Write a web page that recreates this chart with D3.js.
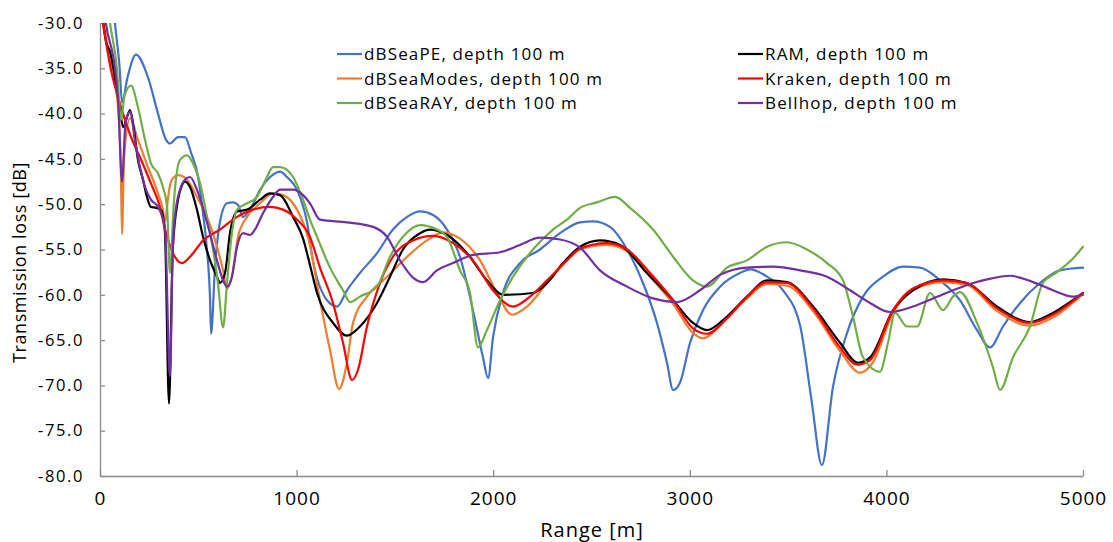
<!DOCTYPE html>
<html><head><meta charset="utf-8">
<script src="https://cdn.jsdelivr.net/npm/d3@7"></script>
<style>
html,body{margin:0;padding:0;background:#fff;}
svg{display:block;font-family:"Open Sans",sans-serif;}
</style></head>
<body><svg id="c" width="1113" height="542"></svg>
<script>
// ---- data (range in m, transmission loss in dB) ----
const peRange = [0,50,76,100,112,140,183,244,295,336,356,397,432,463,499,524,544,560,565,585,610,646,677,702,727,763,814,865,916,951,1002,1053,1083,1155,1206,1256,1322,1409,1490,1562,1628,1694,1765,1831,1897,1948,1974,1999,2050,2136,2238,2340,2442,2508,2594,2681,2762,2833,2884,2915,2950,3001,3067,3154,3255,3306,3393,3474,3561,3619,3672,3728,3800,3881,3983,4084,4171,4273,4374,4461,4527,4593,4680,4781,4883,5000];
const peTL    = [-15,-24,-30,-35,-38.8,-36,-33.5,-36,-40,-42.9,-43.3,-42.6,-42.6,-44.3,-47,-51,-55,-60.6,-64.3,-56.9,-52,-49.9,-49.8,-50.1,-51.4,-50.6,-48.4,-47,-46.4,-47,-48.4,-52,-56.2,-60.6,-61.3,-59.5,-57.6,-55.4,-52.8,-51.4,-50.8,-51.2,-52.8,-55.8,-61.7,-66.9,-69.2,-64.7,-59.8,-56.5,-55,-53.2,-52,-51.9,-52.5,-55,-58.7,-63.1,-67.5,-70.5,-69.7,-65.3,-61.7,-59.1,-57.6,-57.2,-58,-59.5,-63.4,-71.6,-78.8,-70.2,-64.2,-60.2,-58,-56.9,-57,-58.4,-60.6,-63.9,-65.8,-63.5,-60.9,-58.7,-57.3,-57];

const modesRange = [0,40,86,105,112,122,153,193,244,295,320,331,345,361,397,443,493,544,595,626,646,671,702,748,814,880,931,1002,1060,1119,1170,1216,1256,1287,1358,1460,1562,1663,1745,1831,1933,2019,2096,2172,2274,2375,2442,2579,2681,2798,2915,3016,3067,3169,3291,3393,3494,3627,3764,3866,3930,4034,4135,4288,4410,4563,4730,4847,5000];
const modesTL    = [-27,-33,-38,-45,-53.3,-45,-40.5,-42.9,-45.9,-48.8,-50.6,-52,-49.5,-47.5,-46.8,-47.3,-49.2,-51.4,-54.7,-57.3,-59.3,-58,-53.6,-51.4,-49.9,-48.8,-49,-50.6,-53.8,-60.6,-66.1,-70.4,-67.5,-63.1,-60.2,-58,-55.8,-54,-53.1,-53.8,-56.2,-59.8,-62.2,-61.3,-58.7,-56.2,-55,-54.5,-55.2,-58,-61,-64.2,-64.8,-63,-60.4,-58.8,-59,-61.8,-66.2,-68.6,-67.5,-62,-59.5,-58.6,-58.9,-61.8,-63.4,-62.5,-59.9];

const rayRange = [0,51,86,107,125,158,193,229,259,295,320,341,356,375,407,443,473,509,544,575,600,626,646,671,697,748,798,849,880,916,982,1033,1068,1104,1170,1236,1272,1322,1409,1475,1541,1628,1714,1765,1831,1882,1923,1968,2035,2101,2202,2304,2375,2442,2528,2620,2696,2813,2915,3016,3088,3189,3291,3393,3494,3596,3698,3779,3830,3881,3967,4008,4044,4105,4156,4222,4288,4339,4374,4461,4542,4578,4644,4730,4796,4868,4949,5000];
const rayTL    = [-20,-30,-35,-40.7,-38,-36.9,-39.3,-42.9,-45.5,-46.6,-48.1,-50.3,-57.6,-50,-45.1,-44.6,-45.5,-47.7,-51.4,-55,-58.7,-63.6,-58.7,-53.2,-50.6,-49.9,-49.2,-47,-45.9,-45.9,-47,-49.5,-51.7,-53.6,-57,-59.5,-60.8,-60.2,-59.1,-55.8,-53.6,-52.3,-52.8,-53.6,-57.3,-59.8,-65.8,-63.9,-60.6,-58,-55,-52.8,-51.7,-50.4,-49.8,-49.2,-50.4,-52.8,-55.8,-58.4,-59.1,-57,-56.2,-54.7,-54.2,-55,-56.5,-58.4,-62.4,-66.9,-68.5,-65.3,-62,-63.5,-63.5,-59.8,-61.7,-60.2,-59.7,-63.1,-68,-70.5,-66.9,-63.5,-58.7,-57.5,-56,-54.7];

const ramRange = [0,30,53,76,100,117,140,153,173,193,219,234,259,285,310,330,351,370,397,417,432,458,493,524,560,595,610,636,661,697,748,814,865,916,982,1033,1068,1104,1185,1256,1322,1409,1475,1541,1628,1678,1765,1867,1968,2050,2202,2274,2355,2442,2543,2645,2782,2915,3016,3088,3169,3291,3393,3494,3627,3764,3855,3917,4034,4135,4288,4410,4563,4730,4847,5000];
const ramTL    = [-27,-32,-33.3,-36,-39.3,-41.5,-40.2,-39.6,-41.8,-45.1,-47.3,-48.8,-50.3,-50.4,-50.6,-53,-72,-55,-49.5,-47.9,-47.5,-48.1,-50.6,-53.6,-56.2,-58,-58.7,-57.6,-53.2,-50.8,-50.6,-49.5,-48.8,-49,-51.4,-53.8,-56.7,-59.8,-63.1,-64.5,-63.5,-60.9,-58,-55,-53.2,-52.8,-53.4,-55.4,-58.4,-60,-59.8,-58.7,-56.5,-54.7,-54,-54.5,-57.6,-60.6,-63.1,-63.9,-62.8,-60.2,-58.4,-58.6,-61.3,-65.3,-67.5,-66.9,-61.7,-59.5,-58.3,-58.7,-61.3,-63,-62,-59.8];

const krakenRange = [0,15,56,92,117,158,209,259,305,331,371,417,458,524,610,697,778,865,931,1002,1068,1119,1185,1236,1282,1312,1358,1424,1490,1592,1694,1796,1897,1999,2101,2187,2274,2375,2442,2579,2681,2798,2915,3016,3088,3189,3291,3393,3494,3627,3764,3850,3917,4034,4135,4288,4410,4563,4730,4847,5000];
const krakenTL    = [-28,-30,-35.2,-38.2,-40,-42.6,-45.1,-47.7,-50.3,-52.8,-55.4,-56.5,-55.8,-54,-52.8,-51.4,-50.6,-50.3,-50.6,-51.7,-53.6,-57,-60.9,-65.3,-69.4,-68.3,-63.5,-58.7,-55.8,-54,-53.5,-54.3,-56.2,-59.5,-61.3,-60.2,-58.4,-56.2,-54.9,-54.3,-55,-57.6,-60.6,-63.7,-64.3,-62.6,-60.2,-58.6,-58.7,-61.5,-65.8,-67.7,-67.2,-61.7,-59.3,-58.4,-58.7,-61.5,-63.1,-62.2,-59.8];

const bellhopRange = [0,30,76,92,112,130,153,178,203,229,259,295,330,356,370,381,407,432,458,493,544,595,626,646,671,697,727,763,788,829,880,916,982,1033,1068,1119,1256,1389,1460,1526,1592,1643,1714,1796,1897,2035,2136,2238,2340,2442,2543,2681,2813,2935,3052,3154,3291,3423,3561,3698,3815,3917,4018,4135,4237,4339,4441,4512,4629,4746,4847,4949,5000];
const bellhopTL    = [-24,-30,-35,-38.5,-47.5,-41,-39.8,-43,-45.9,-48.1,-49.5,-50.3,-52.5,-69,-55,-51.4,-48.4,-47.3,-47,-48.4,-52,-56.2,-58.4,-59.1,-58,-54.7,-53.2,-53.4,-52.8,-51,-49.2,-48.4,-48.4,-49,-49.9,-51.7,-52,-52.5,-53.6,-56.2,-58.1,-58.6,-57.3,-56.5,-55.6,-55.3,-54.5,-53.7,-53.9,-54.8,-57.3,-59.1,-60.4,-60.8,-59.5,-57.8,-57,-56.9,-57.3,-58,-59.5,-60.9,-61.9,-61.3,-60.4,-59.5,-58.7,-58.3,-57.9,-58.6,-59.5,-60.2,-60];

const seriesNames  = ["dBSeaPE, depth 100 m","dBSeaModes, depth 100 m","dBSeaRAY, depth 100 m","RAM, depth 100 m","Kraken, depth 100 m","Bellhop, depth 100 m"];
const seriesColors = ["#4472C4","#ED7D31","#70AD47","#000000","#FF0000","#7030A0"];
const xTicks = [0,1000,2000,3000,4000,5000];
const yTicks = [-30,-35,-40,-45,-50,-55,-60,-65,-70,-75,-80];

const series = [
  {name: seriesNames[0], color: seriesColors[0], xs: peRange, ys: peTL},
  {name: seriesNames[1], color: seriesColors[1], xs: modesRange, ys: modesTL},
  {name: seriesNames[2], color: seriesColors[2], xs: rayRange, ys: rayTL},
  {name: seriesNames[3], color: seriesColors[3], xs: ramRange, ys: ramTL},
  {name: seriesNames[4], color: seriesColors[4], xs: krakenRange, ys: krakenTL},
  {name: seriesNames[5], color: seriesColors[5], xs: bellhopRange, ys: bellhopTL}
];

// ---- chart ----
const svg = d3.select("#c");
const L = 100, R = 1083, T = 23, B = 476;
const x = d3.scaleLinear().domain([0,5000]).range([L,R]);
const y = d3.scaleLinear().domain([-80,-30]).range([B,T]);

svg.append("defs").append("clipPath").attr("id","clip")
  .append("rect").attr("x",L).attr("y",T).attr("width",R-L+1).attr("height",B-T);

const axisColor = "#8C8C8C";

// y axis
const gy = svg.append("g").attr("transform",`translate(${L},0)`)
  .call(d3.axisLeft(y).tickValues(yTicks).tickSizeInner(-5).tickSizeOuter(0).tickPadding(16)
    .tickFormat(d => d.toFixed(1)));
gy.select(".domain").attr("stroke",axisColor).attr("stroke-width",1.3);
gy.selectAll(".tick line").attr("stroke",axisColor).attr("stroke-width",1.3);
gy.selectAll(".tick text").attr("font-size",16.5).attr("fill","#000").attr("font-family","'Open Sans',sans-serif").attr("letter-spacing","1.6px");

// x axis
const gx = svg.append("g").attr("transform",`translate(0,${B})`)
  .call(d3.axisBottom(x).tickValues(xTicks).tickSizeInner(-6).tickSizeOuter(0).tickPadding(16)
    .tickFormat(d => String(d)));
gx.select(".domain").attr("stroke",axisColor).attr("stroke-width",1.3);
gx.selectAll(".tick line").attr("stroke",axisColor).attr("stroke-width",1.3);
gx.selectAll(".tick text").attr("font-size",19).attr("fill","#000").attr("font-family","'Open Sans',sans-serif").attr("letter-spacing","1px");

// axis titles
svg.append("text").attr("x",592).attr("y",537).attr("text-anchor","middle")
  .attr("font-size",20).attr("letter-spacing","1px").text("Range [m]");
svg.append("text").attr("transform",`translate(26,${(T+B)/2+13}) rotate(-90)`).attr("text-anchor","middle")
  .attr("font-size",18).attr("letter-spacing","0.6px").text("Transmission loss [dB]");

// lines
const line = d3.line().x(d => x(d[0])).y(d => y(d[1])).curve(d3.curveMonotoneX);
const plot = svg.append("g").attr("clip-path","url(#clip)");
const drawOrder = [0,1,3,4,2,5];
drawOrder.forEach(i => {
  const s = series[i];
  const pts = s.xs.map((v,j) => [v, s.ys[j]]);
  plot.append("path").datum(pts).attr("d",line)
    .attr("fill","none").attr("stroke",s.color).attr("stroke-width",2.2)
    .attr("stroke-linejoin","round").attr("stroke-linecap","round");
});

// legend
const legPos = [[337,54],[337,78.5],[337,103],[738,54],[738,78.5],[738,103]];
series.forEach((s,i) => {
  const [lx,ly] = legPos[i];
  const g = svg.append("g");
  g.append("line").attr("x1",lx).attr("x2",lx+25).attr("y1",ly).attr("y2",ly)
    .attr("stroke",s.color).attr("stroke-width",2.2);
  g.append("text").attr("x",lx+27).attr("y",ly+6).attr("font-size",17)
    .attr("letter-spacing","1.15px").attr("fill","#000").text(s.name);
});
</script>
</body></html>
